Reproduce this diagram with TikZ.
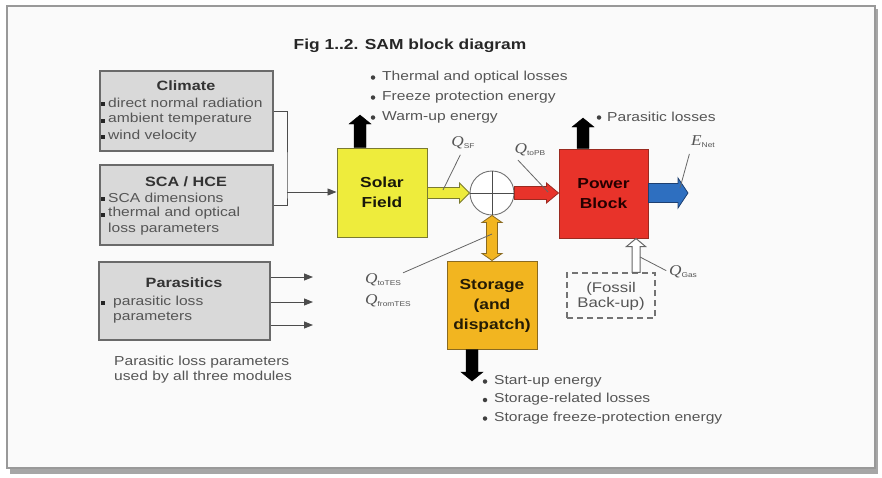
\documentclass[tikz,border=0pt]{standalone}
\usepackage{fontspec}
\setmainfont[FakeStretch=1.2]{Liberation Sans}
\newfontfamily\serifq[FakeStretch=1.15]{Liberation Serif}
\usetikzlibrary{calc,arrows.meta}
\definecolor{boxgray}{HTML}{D9D9D9}
\definecolor{boxline}{HTML}{6A6A6A}
\definecolor{txtgray}{HTML}{555555}
\definecolor{sfyellow}{HTML}{EEEC3C}
\definecolor{sfline}{HTML}{7A7A30}
\definecolor{pbred}{HTML}{E8332A}
\definecolor{pbline}{HTML}{9A2A20}
\definecolor{storange}{HTML}{F2B520}
\definecolor{stline}{HTML}{8A6A20}
\definecolor{netblue}{HTML}{2E6FC0}
\definecolor{netline}{HTML}{1D3F70}
\newcommand{\fatarrow}[6]{%
\coordinate (faA) at (#2); \coordinate (faB) at (#3);
\coordinate (faH) at ($(faB)!#6!(faA)$);
\draw[#1] ($(faA)!#4!90:(faB)$) -- ($(faH)!#4!-90:(faA)$) -- ($(faH)!#5!-90:(faA)$) -- (faB) -- ($(faH)!#5!90:(faA)$) -- ($(faH)!#4!90:(faA)$) -- ($(faA)!#4!-90:(faB)$) -- cycle;}
\newcommand{\dblarrow}[6]{%
\coordinate (faA) at (#2); \coordinate (faB) at (#3);
\coordinate (faH) at ($(faB)!#6!(faA)$);
\coordinate (faG) at ($(faA)!#6!(faB)$);
\draw[#1] (faA) -- ($(faG)!#5!90:(faB)$) -- ($(faG)!#4!90:(faB)$) -- ($(faH)!#4!-90:(faA)$) -- ($(faH)!#5!-90:(faA)$) -- (faB) -- ($(faH)!#5!90:(faA)$) -- ($(faH)!#4!90:(faA)$) -- ($(faG)!#4!-90:(faB)$) -- ($(faG)!#5!-90:(faB)$) -- cycle;}
\newcommand{\qlabel}[1]{{\serifq\itshape\fontsize{15}{15}\selectfont Q}\raisebox{-2pt}{\fontsize{7}{8}\selectfont #1}}
\begin{document}
\begin{tikzpicture}[x=1pt,y=-1pt,font=\fontsize{13}{15}\selectfont,
  graybox/.style={draw=boxline,fill=boxgray,line width=1.4pt,inner sep=0},
  colbox/.style={line width=1pt,inner sep=0,minimum width=90pt,minimum height=89pt},
  boxtitle/.style={font=\bfseries\fontsize{13.5}{15}\selectfont,text=black!80,inner sep=0},
  boxtxt/.style={anchor=west,text=txtgray,inner sep=0},
  bigtxt/.style={font=\bfseries\fontsize{14.5}{20}\selectfont,align=center,inner sep=0},
  listtxt/.style={anchor=west,text=txtgray,inner sep=0},
  bul/.style={circle,fill=black!75,inner sep=0,minimum size=4.5pt},
  sqbul/.style={fill=black!85,inner sep=0,minimum size=4pt},
  wire/.style={draw=black!70,line width=0.9pt},
  leader/.style={draw=black!60,line width=0.8pt},
  qlab/.style={text=txtgray,inner sep=0}]
\useasboundingbox (0,0) rectangle (882,477);
% frame
\fill[black!35] (10,468) rectangle (878,474);
\fill[black!35] (875,9) rectangle (878,474);
\draw[black!40,fill=white!98!black,line width=1.3pt] (7,6) rectangle (875,468);
% title
\node[font=\bfseries\fontsize{14.5}{16}\selectfont,text=black!85,inner sep=0] (title) at (410,46) {Fig 1..2. SAM block diagram};
% gray boxes
\node[graybox,minimum width=173pt,minimum height=80pt] (climate) at (186.5,111) {};
\node[graybox,minimum width=173pt,minimum height=80pt] (sca) at (186.5,205) {};
\node[graybox,minimum width=171pt,minimum height=78pt] (para) at (184.5,301) {};
\node[boxtitle] (climt) at (186,86) {Climate};
\node[boxtxt] (c1) at (108,103) {direct normal radiation};
\node[boxtxt] (c2) at (108,119.5) {ambient temperature};
\node[boxtxt] (c3) at (108,136) {wind velocity};
\node[sqbul] (cb1) at (103,104) {};
\node[sqbul] (cb2) at (103,120.5) {};
\node[sqbul] (cb3) at (103,137) {};
\node[boxtitle] (scat) at (186,182) {SCA / HCE};
\node[boxtxt] (s1) at (108,197.5) {SCA dimensions};
\node[boxtxt] (s2) at (108,213.5) {thermal and optical};
\node[boxtxt] (s3) at (108,229.5) {loss parameters};
\node[sqbul] (sb1) at (103,198.5) {};
\node[sqbul] (sb2) at (103,214.5) {};
\node[boxtitle] (parat) at (184,283) {Parasitics};
\node[boxtxt] (p1t) at (113,302) {parasitic loss};
\node[boxtxt] (p2t) at (113,318) {parameters};
\node[sqbul] (pb1) at (103,303) {};
\node[listtxt] (cap1) at (114,362) {Parasitic loss parameters};
\node[listtxt] (cap2) at (114,377.5) {used by all three modules};
% main blocks
\node[colbox,draw=sfline,fill=sfyellow] (solar) at (382,192.5) {};
\node[bigtxt,text=black!80!sfline] (solart) at (solar) {Solar\\Field};
\node[colbox,draw=pbline,fill=pbred,minimum width=89pt] (power) at (603.5,193.5) {};
\node[bigtxt,text=black!85!red] (powert) at (power) {Power\\Block};
\node[colbox,draw=stline,fill=storange,minimum height=88pt] (storage) at (492,305) {};
\node[bigtxt,text=black!85!storange] (storaget) at (492,306) {Storage\\(and\\dispatch)};
\node[draw=black!55,dashed,dash pattern=on 6pt off 4pt,line width=1.2pt,minimum width=88pt,minimum height=45pt,inner sep=0] (fossil) at (611,295.5) {};
\node[align=center,text=txtgray,font=\fontsize{14}{15}\selectfont,inner sep=0] (fossilt) at (611,296) {(Fossil\\Back-up)};
% wires
\coordinate (jn) at (287,192);
\draw[wire] (climate.east) -| (jn) |- (sca.east);
\draw[wire,-{Triangle[length=9pt,width=7pt]}] (jn) -- (solar.west |- jn);
\coordinate (pa1) at (313,277);
\coordinate (pa2) at (313,302);
\coordinate (pa3) at (313,325);
\draw[wire,-{Triangle[length=9pt,width=7pt]}] (para.east |- pa1) -- (pa1);
\draw[wire,-{Triangle[length=9pt,width=7pt]}] (para.east |- pa2) -- (pa2);
\draw[wire,-{Triangle[length=9pt,width=7pt]}] (para.east |- pa3) -- (pa3);
% mixing circle
\node[circle,draw=black!55,fill=white,line width=0.9pt,minimum size=44pt,inner sep=0] (mix) at (492,193) {};
\draw[black!70,line width=0.9pt] (mix.north) -- (mix.south) (mix.west) -- (mix.east);
% fat arrows
\fatarrow{draw=sfline,fill=sfyellow,line width=0.8pt}{solar.east |- mix}{mix.west}{5.5pt}{10pt}{10pt}
\fatarrow{draw=pbline,fill=pbred,line width=0.8pt}{mix.east}{power.west |- mix}{6.5pt}{10pt}{12pt}
\coordinate (enet) at (688,193);
\fatarrow{draw=netline,fill=netblue,line width=0.8pt}{power.east |- enet}{enet}{9.5pt}{15pt}{10pt}
\coordinate (sfout) at (360,115);
\fatarrow{fill=black}{sfout |- solar.north}{sfout}{6pt}{11pt}{9pt}
\coordinate (pbout) at (583,118);
\fatarrow{fill=black}{pbout |- power.north}{pbout}{6pt}{11pt}{9pt}
\coordinate (stout) at (472,381);
\fatarrow{fill=black}{stout |- storage.south}{stout}{6pt}{11pt}{9pt}
\coordinate (gasx) at (636,0);
\fatarrow{draw=black!60,fill=white,line width=1pt}{gasx |- fossil.north}{gasx |- power.south}{4pt}{9.5pt}{8pt}
\dblarrow{draw=stline,fill=storange,line width=0.8pt}{mix.south}{storage.north}{5.5pt}{10pt}{7pt}
% bullet lists
\node[listtxt] (l1) at (382,77) {Thermal and optical losses};
\node[listtxt] (l2) at (382,97) {Freeze protection energy};
\node[listtxt] (l3) at (382,117) {Warm-up energy};
\node[bul] (lb1) at (373,77.5) {};
\node[bul] (lb2) at (373,97.5) {};
\node[bul] (lb3) at (373,117.5) {};
\node[listtxt] (pl) at (607,117) {Parasitic losses};
\node[bul] (plb) at (599,117.5) {};
\node[listtxt] (st1) at (494,381) {Start-up energy};
\node[listtxt] (st2) at (494,399.5) {Storage-related losses};
\node[listtxt] (st3) at (494,418) {Storage freeze-protection energy};
\node[bul] (stb1) at (485,381.5) {};
\node[bul] (stb2) at (485,400) {};
\node[bul] (stb3) at (485,418.5) {};
% Q labels and leaders
\node[qlab] (qsf) at (463,143) {\qlabel{SF}};
\coordinate (qsfe) at (443,190);
\draw[leader,shorten <=6pt] (qsf.south) -- (qsfe);
\node[qlab] (qtopb) at (530,150) {\qlabel{toPB}};
\coordinate (qtopbe) at (548,192);
\draw[leader,shorten <=5pt] (qtopb.south west) -- (qtopbe);
\node[qlab] (qnet) at (703,142) {{\serifq\itshape\fontsize{15}{15}\selectfont E}\raisebox{-2pt}{\fontsize{7}{8}\selectfont Net}};
\coordinate (qnete) at (680,188);
\draw[leader,shorten <=6pt] (qnet.south west) -- (qnete);
\node[qlab] (qgas) at (683,272) {\qlabel{Gas}};
\coordinate (qgase) at (640,257);
\draw[leader,shorten <=3pt] (qgas.west) -- (qgase);
\node[qlab,anchor=west] (qtotes) at (365,280) {\qlabel{toTES}};
\node[qlab,anchor=west] (qfromtes) at (365,301) {\qlabel{fromTES}};
\coordinate (qtese) at (492,234);
\draw[leader,shorten <=2pt] (qtotes.north east) -- (qtese);
\end{tikzpicture}
\end{document}
